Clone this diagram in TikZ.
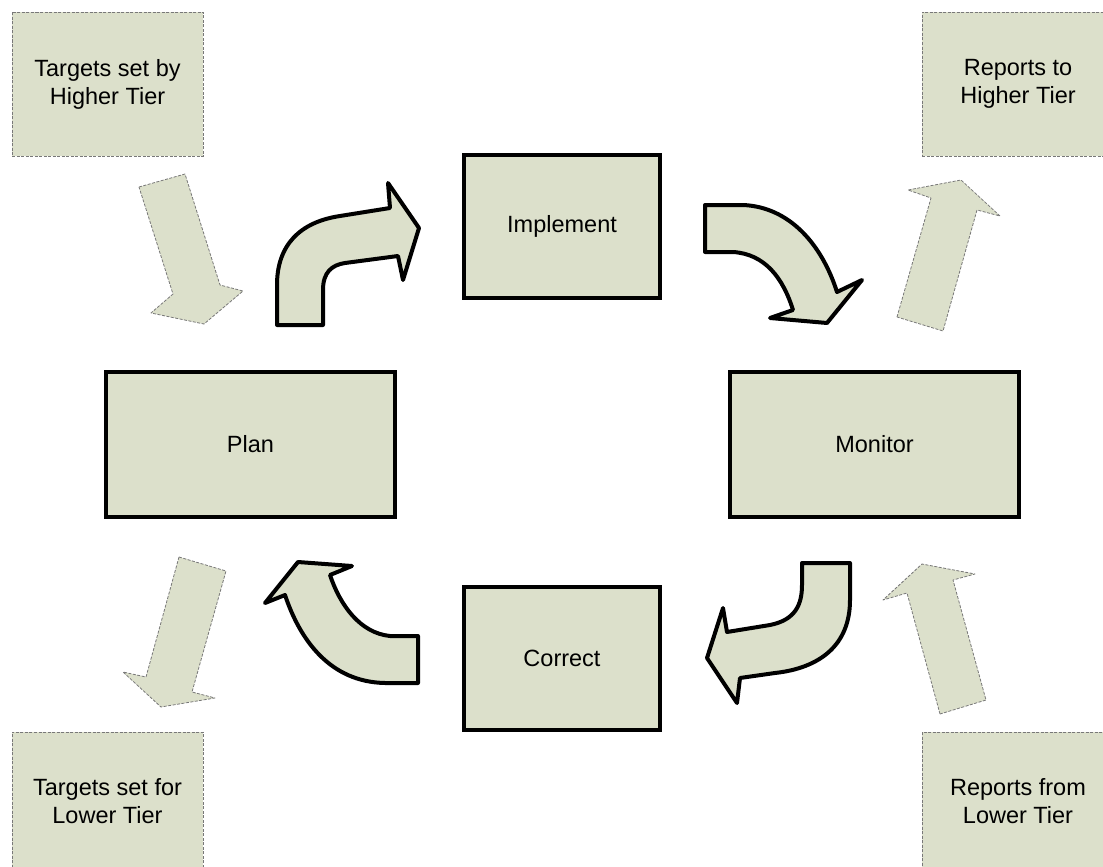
\documentclass[tikz,border=0pt]{standalone}
\usepackage{fontspec}
\setmainfont{Liberation Sans}
\definecolor{sage}{RGB}{220,224,203}
\definecolor{dashgray}{RGB}{120,120,120}
\begin{document}
\begin{tikzpicture}[x=1pt,y=-1pt,
  mainbox/.style={draw=black,line width=4pt,fill=sage,inner sep=0pt,
    font=\fontsize{23.5}{28}\selectfont},
  sidebox/.style={draw=dashgray,line width=0.8pt,dash pattern=on 3pt off 1.5pt,
    fill=sage,inner sep=0pt,align=center,font=\fontsize{23.5}{28}\selectfont},
  bigarrow/.style={draw=black,line width=4pt,fill=sage,line join=round},
  sidearrow/.style={draw=dashgray,line width=0.8pt,dash pattern=on 3pt off 1.5pt,
    fill=sage,line join=round}]
\useasboundingbox (0,0) rectangle (1103,867);
\clip (0,0) rectangle (1103,867);
\fill[white] (0,0) rectangle (1103,867);

% main boxes
\node[mainbox,minimum width=196pt,minimum height=143pt] (impl) at (562,226.5) {Implement};
\node[mainbox,minimum width=289pt,minimum height=145pt] (plan) at (250.5,444.5) {Plan};
\node[mainbox,minimum width=289pt,minimum height=145pt] (mon) at (874.5,444.5) {Monitor};
\node[mainbox,minimum width=196pt,minimum height=143pt] (corr) at (562,658.5) {Correct};

% side boxes
\node[sidebox,minimum width=191pt,minimum height=144pt] (tht) at (107.5,84) {Targets set by\\Higher Tier};
\node[sidebox,minimum width=192pt,minimum height=144pt] (rht) at (1018,84) {Reports to\\Higher Tier};
\node[sidebox,minimum width=191pt,minimum height=138pt] (tlt) at (107.5,801) {Targets set for\\Lower Tier};
\node[sidebox,minimum width=192pt,minimum height=138pt] (rlt) at (1018,801) {Reports from\\Lower Tier};

% curved block arrows
\draw[bigarrow] (277,325) -- (277,285) .. controls (277,245) and (300,222) .. (340,216)
  -- (390,208) -- (388,183) -- (419,228) -- (403,280) -- (398,256) -- (345,263)
  .. controls (332,265) and (323,272) .. (323,290) -- (323,325) -- cycle;
\draw[bigarrow] (705,205) -- (743,205) .. controls (790,207) and (822,245) .. (837,292)
  -- (862,280) -- (827,323) -- (770,318) -- (793,310)
  .. controls (783,278) and (765,254) .. (733,252) -- (705,252) -- cycle;
\draw[bigarrow] (802,563) -- (850,563) -- (850,600) .. controls (850,645) and (820,668) .. (775,673)
  -- (740,678) -- (737,703) -- (707,658) -- (723,608) -- (727,632) -- (770,625)
  .. controls (795,620) and (802,605) .. (802,585) -- cycle;
\draw[bigarrow] (418,636) -- (390,636) .. controls (360,633) and (340,605) .. (330,575)
  -- (352,566) -- (298,562) -- (265,603) -- (285,595)
  .. controls (300,640) and (330,682) .. (385,683) -- (418,683) -- cycle;

% straight dashed block arrows
\draw[sidearrow] (139,187) -- (185,174) -- (220,285) -- (243,291) -- (204,324)
  -- (151,313) -- (173,294) -- cycle;
\draw[sidearrow] (897,317) -- (931,198) -- (908,190) -- (961,180) -- (1000,216)
  -- (977,210) -- (943,331) -- cycle;
\draw[sidearrow] (179,557) -- (226,571) -- (192,692) -- (215,698) -- (161,707)
  -- (123,672) -- (146,677) -- cycle;
\draw[sidearrow] (940,714) -- (907,593) -- (883,600) -- (922,564) -- (975,574)
  -- (953,580) -- (986,700) -- cycle;
\end{tikzpicture}
\end{document}
